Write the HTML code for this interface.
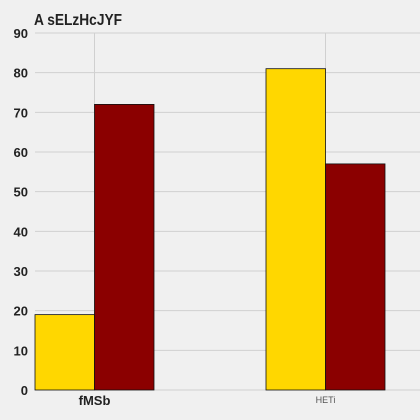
<!DOCTYPE html>
<html><head><style>
body{margin:0;background:#f0f0f0;}
svg{display:block;font-family:"Liberation Sans",sans-serif;}
</style></head><body>
<svg id="chart" width="420" height="420" viewBox="0 0 420 420">
<rect width="420" height="420" fill="#f0f0f0"/>
<text x="34" y="25" font-weight="bold" font-size="16" fill="#222" textLength="88" lengthAdjust="spacingAndGlyphs">A sELzHcJYF</text>
<g id="grid"></g><g id="bars"></g><g id="labels"></g>
</svg>
<script>
const categories = ["fMSb", "HETi"];
const seriesA = [19, 81];
const seriesB = [72, 57];
const yTicks = [0, 10, 20, 30, 40, 50, 60, 70, 80, 90];
const colors = ["#ffd700", "#8b0000"];
const NS = "http://www.w3.org/2000/svg";
const y = v => 390 - v * (357 / 90);
const xc = i => 94.5 + i * 231;
const bw = 59.5;
function mk(tag, attrs, parent) { const e = document.createElementNS(NS, tag); for (const k in attrs) e.setAttribute(k, attrs[k]); parent.appendChild(e); return e; }
const grid = document.getElementById("grid"), bars = document.getElementById("bars"), labels = document.getElementById("labels");
yTicks.forEach(t => {
  const l = mk("line", {x1: 35, x2: 420, y1: y(t), y2: y(t), stroke: "#d0d0d0", "stroke-width": 1}, grid);
  
  
  const tx = mk("text", {x: 28, y: y(t) + 5, "text-anchor": "end", "font-size": 13, "font-weight": "bold", fill: "#222"}, labels);
  tx.textContent = t;
  
  
});
categories.forEach((c, i) => {
  const g = mk("line", {x1: xc(i), x2: xc(i), y1: 33, y2: 390, stroke: "#d0d0d0", "stroke-width": 1}, grid);
  
  
  const a = mk("rect", {x: xc(i) - bw, y: y(seriesA[i]), width: bw, height: 390 - y(seriesA[i]), fill: colors[0], stroke: "#111", "stroke-width": 0.8}, bars);
  
  
  const b = mk("rect", {x: xc(i), y: y(seriesB[i]), width: bw, height: 390 - y(seriesB[i]), fill: colors[1], stroke: "#111", "stroke-width": 0.8}, bars);
  
  
  const big = i === 0;
  const tx = mk("text", {x: xc(i), y: big ? 405 : 403, "text-anchor": "middle", "font-size": big ? 13 : 9, "font-weight": big ? "bold" : "normal", fill: big ? "#222" : "#555"}, labels);
  tx.textContent = c;
  
  
});
</script>
</body></html>
